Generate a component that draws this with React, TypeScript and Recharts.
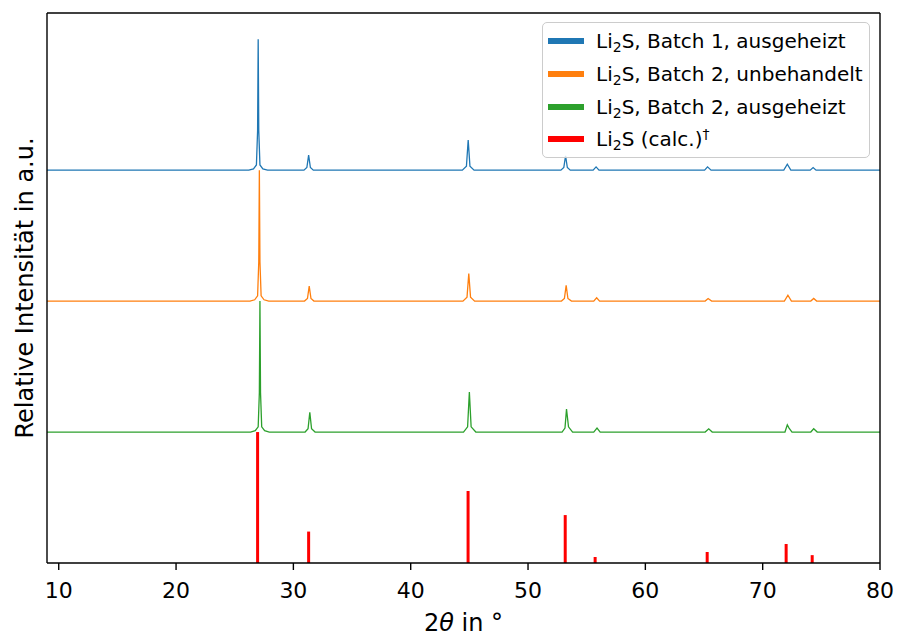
import React from "react";
import { LineChart, Line, XAxis, YAxis, ReferenceLine, Label } from "recharts";

// 2θ / relative intensity pairs (0 = baseline, 1 = main reflex)
const batch1Heated: [number, number][] = [
  [9.0, 0], [26.2, 0], [26.6, 0.01], [26.85, 0.04], [26.95, 0.3], [27.0, 1.0], [27.05, 0.3], [27.15, 0.04], [27.4, 0.01], [27.8, 0],
  [30.9, 0], [31.15, 0.02], [31.3, 0.115], [31.45, 0.02], [31.7, 0],
  [44.4, 0], [44.75, 0.03], [44.9, 0.23], [45.05, 0.03], [45.4, 0],
  [52.8, 0], [53.05, 0.02], [53.2, 0.11], [53.35, 0.02], [53.6, 0],
  [55.55, 0], [55.8, 0.025], [56.05, 0],
  [65.05, 0], [65.3, 0.025], [65.6, 0],
  [71.8, 0], [72.1, 0.045], [72.4, 0],
  [74.05, 0], [74.3, 0.02], [74.55, 0],
  [80, 0],
];

const batch2Raw: [number, number][] = [
  [9.0, 0], [26.3, 0], [26.7, 0.01], [26.95, 0.04], [27.05, 0.3], [27.1, 1.0], [27.15, 0.3], [27.25, 0.04], [27.5, 0.01], [27.9, 0],
  [30.95, 0], [31.2, 0.02], [31.35, 0.115], [31.5, 0.02], [31.75, 0],
  [44.45, 0], [44.8, 0.03], [44.95, 0.21], [45.1, 0.03], [45.45, 0],
  [52.85, 0], [53.1, 0.02], [53.25, 0.12], [53.4, 0.02], [53.7, 0],
  [55.6, 0], [55.85, 0.025], [56.1, 0],
  [65.1, 0], [65.35, 0.02], [65.65, 0],
  [71.85, 0], [72.15, 0.045], [72.45, 0],
  [74.1, 0], [74.35, 0.02], [74.6, 0],
  [80, 0],
];

const batch2Heated: [number, number][] = [
  [9.0, 0], [26.35, 0], [26.75, 0.01], [27.0, 0.04], [27.1, 0.3], [27.15, 1.0], [27.2, 0.3], [27.3, 0.04], [27.55, 0.01], [27.95, 0],
  [31.0, 0], [31.25, 0.025], [31.4, 0.15], [31.55, 0.025], [31.85, 0],
  [44.5, 0], [44.85, 0.04], [45.0, 0.305], [45.15, 0.04], [45.55, 0],
  [52.9, 0], [53.15, 0.03], [53.28, 0.175], [53.45, 0.04], [53.8, 0],
  [55.6, 0], [55.88, 0.03], [56.15, 0],
  [65.1, 0], [65.4, 0.025], [65.7, 0],
  [71.9, 0], [72.1, 0.055], [72.25, 0.03], [72.5, 0],
  [74.1, 0], [74.35, 0.025], [74.65, 0],
  [80, 0],
];

// calculated reference pattern (sticks)
const calcPositions = [26.95, 31.3, 44.89, 53.17, 55.72, 65.27, 72.0, 74.22];
const calcIntensities = [1.0, 0.24, 0.55, 0.366, 0.046, 0.084, 0.145, 0.06];

const xTicks = [10, 20, 30, 40, 50, 60, 70, 80];

const FONT = "DejaVu Sans";

const series = [
  { name: "Batch 1, ausgeheizt", data: batch1Heated, offset: 3, color: "#1f77b4" },
  { name: "Batch 2, unbehandelt", data: batch2Raw, offset: 2, color: "#ff7f0e" },
  { name: "Batch 2, ausgeheizt", data: batch2Heated, offset: 1, color: "#2ca02c" },
];

const toRows = (pairs: [number, number][], offset: number) =>
  pairs.map(([x, v]) => ({ x, y: v + offset }));

const frame = { stroke: "#000", strokeWidth: 1.4 };

function Li2S() {
  return (
    <>
      Li<span style={{ fontSize: "0.7em", verticalAlign: "-0.25em", lineHeight: 0 }}>2</span>S
    </>
  );
}

function LegendBox() {
  const rows = [
    ...series.map((s) => ({ color: s.color, label: <><Li2S />, {s.name}</> })),
    {
      color: "#ff0000",
      label: (
        <>
          <Li2S /> (calc.)
          <span style={{ fontSize: "0.7em", verticalAlign: "0.5em", lineHeight: 0 }}>†</span>
        </>
      ),
    },
  ];
  return (
    <div
      style={{
        position: "absolute",
        left: 542,
        top: 22,
        width: 328,
        height: 136,
        boxSizing: "border-box",
        border: "1.5px solid #cccccc",
        borderRadius: 5,
        background: "rgba(255,255,255,0.8)",
        fontFamily: FONT,
        fontSize: 20,
        color: "#000",
      }}
    >
      {rows.map((r, i) => (
        <div key={i} style={{ position: "absolute", left: 0, top: 8 + i * 32.8, height: 20, lineHeight: "20px", whiteSpace: "nowrap" }}>
          <div style={{ position: "absolute", left: 5, top: 7, width: 36, height: 6, background: r.color }} />
          <div style={{ position: "absolute", left: 53, top: 0 }}>{r.label}</div>
        </div>
      ))}
    </div>
  );
}

export default function App() {
  return (
    <div style={{ position: "absolute", left: 0, top: 0, width: 898, height: 639, background: "#fff" }}>
      <LineChart width={898} height={639} margin={{ top: 0, right: 0, bottom: 0, left: 0 }} style={{ fontFamily: FONT }}>
        <XAxis
          dataKey="x"
          type="number"
          domain={[9, 80]}
          ticks={xTicks}
          allowDataOverflow
          height={76}
          axisLine={frame}
          tickLine={frame}
          tickSize={7}
          tickMargin={12}
          tick={{ fontSize: 22, fill: "#000", fontFamily: FONT }}
        >
          <Label
            content={({ viewBox }: any) => (
              <text x={viewBox.x + viewBox.width / 2} y={viewBox.y + 68} textAnchor="middle" fontSize={24} fontFamily={FONT} fill="#000">
                2<tspan fontStyle="italic">θ</tspan> in °
              </text>
            )}
          />
        </XAxis>
        <XAxis
          xAxisId="top"
          orientation="top"
          dataKey="x"
          type="number"
          domain={[9, 80]}
          allowDataOverflow
          height={13}
          tick={false}
          tickLine={false}
          axisLine={frame}
        />
        <YAxis
          type="number"
          domain={[0, 4.2]}
          allowDataOverflow
          width={47}
          tick={false}
          tickLine={false}
          axisLine={frame}
        >
          <Label
            content={({ viewBox }: any) => {
              const cx = viewBox.x + 33;
              const cy = viewBox.y + viewBox.height / 2;
              return (
                <text x={cx} y={cy} transform={`rotate(-90, ${cx}, ${cy})`} textAnchor="middle" fontSize={24} fontFamily={FONT} fill="#000">
                  Relative Intensität in a.u.
                </text>
              );
            }}
          />
        </YAxis>
        <YAxis
          yAxisId="right"
          orientation="right"
          type="number"
          domain={[0, 4.2]}
          allowDataOverflow
          width={18}
          tick={false}
          tickLine={false}
          axisLine={frame}
        />
        {series.map((s) => (
          <Line
            key={s.name}
            data={toRows(s.data, s.offset)}
            dataKey="y"
            type="linear"
            stroke={s.color}
            strokeWidth={1.3}
            dot={false}
            activeDot={false}
            isAnimationActive={false}
          />
        ))}
        {calcPositions.map((p, i) => (
          <ReferenceLine
            key={p}
            segment={[{ x: p, y: 0 }, { x: p, y: calcIntensities[i] }]}
            stroke="#ff0000"
            strokeWidth={3}
          />
        ))}
      </LineChart>
      <LegendBox />
    </div>
  );
}
